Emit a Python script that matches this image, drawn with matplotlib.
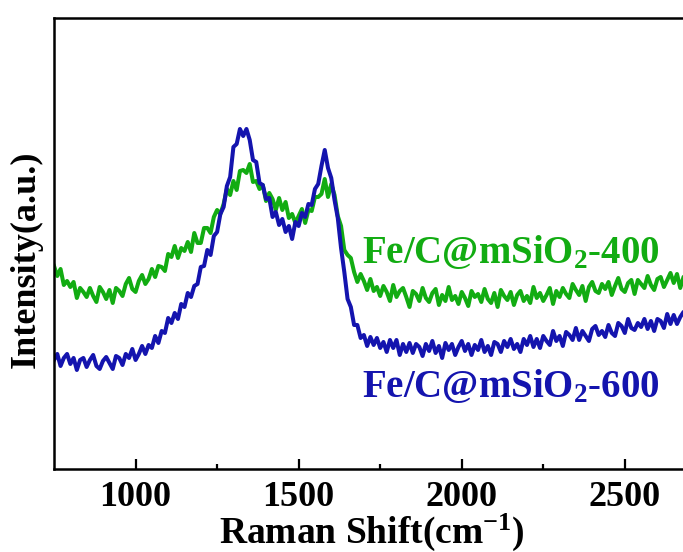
import matplotlib
matplotlib.use("Agg")
import matplotlib.pyplot as plt
import numpy as np

# Raman shift grid (cm-1), one reading every 10 cm-1
shift = np.arange(750, 2701, 10)

# Fe/C@mSiO2-400 (green), noise included
int_400 = [
    203, 193, 200, 184, 188, 182, 187, 171, 181, 177,
    172, 181, 173, 167, 182, 177, 170, 179, 166, 181,
    178, 173, 185, 191, 180, 177, 188, 194, 185, 190,
    200, 192, 203, 202, 198, 215, 212, 223, 211, 221,
    218, 227, 217, 236, 226, 226, 241, 241, 236, 252,
    259, 255, 265, 280, 274, 288, 279, 298, 299, 296,
    305, 287, 288, 280, 284, 268, 276, 270, 259, 271,
    259, 267, 251, 255, 246, 253, 260, 246, 259, 258,
    272, 272, 275, 290, 272, 285, 274, 253, 243, 219,
    214, 211, 197, 187, 195, 188, 179, 190, 178, 182,
    173, 183, 177, 168, 184, 172, 178, 181, 172, 162,
    178, 175, 168, 181, 171, 167, 176, 180, 164, 174,
    168, 182, 169, 173, 165, 177, 171, 163, 178, 172,
    175, 167, 180, 170, 166, 176, 162, 179, 173, 169,
    177, 164, 174, 178, 168, 173, 166, 182, 171, 176,
    168, 174, 181, 165, 178, 172, 181, 175, 171, 185,
    179, 174, 183, 168, 182, 187, 178, 176, 185, 180,
    187, 174, 183, 191, 180, 177, 186, 189, 175, 189,
    185, 181, 193, 184, 179, 190, 192, 182, 189, 196,
    186, 195, 181, 192, 194, 188,
]

# Fe/C@mSiO2-600 (blue)
int_600 = [
    109, 115, 103, 111, 115, 105, 111, 99, 109, 111,
    102, 109, 114, 103, 100, 108, 112, 106, 100, 113,
    111, 104, 115, 111, 120, 109, 115, 123, 115, 124,
    121, 133, 126, 138, 136, 151, 146, 156, 150, 165,
    162, 176, 172, 183, 185, 202, 203, 219, 214, 233,
    237, 255, 262, 283, 292, 322, 325, 340, 333, 340,
    329, 309, 307, 286, 284, 270, 271, 252, 257, 244,
    250, 237, 243, 230, 247, 243, 256, 252, 265, 264,
    280, 285, 303, 319, 301, 291, 269, 251, 221, 197,
    170, 162, 144, 144, 131, 134, 123, 132, 124, 131,
    121, 127, 117, 129, 121, 129, 114, 125, 117, 126,
    116, 125, 122, 113, 125, 118, 128, 116, 123, 111,
    126, 119, 125, 114, 122, 128, 118, 125, 114, 124,
    119, 129, 117, 123, 114, 127, 125, 117, 128, 122,
    130, 120, 125, 117, 130, 124, 133, 122, 130, 121,
    133, 128, 124, 138, 128, 133, 123, 137, 134, 129,
    141, 129, 138, 133, 128, 140, 143, 134, 138, 132,
    144, 136, 133, 146, 143, 136, 150, 141, 139, 146,
    142, 150, 140, 148, 138, 150, 148, 141, 155, 145,
    154, 145, 152, 157, 148, 150,
]

labels = ["Fe/C@mSiO$_2$-400", "Fe/C@mSiO$_2$-600"]
colors = ["#12AC12", "#1414AE"]
xticks = [1000, 1500, 2000, 2500]

plt.rcParams["font.family"] = "Liberation Serif"
plt.rcParams["font.weight"] = "bold"
plt.rcParams["axes.labelweight"] = "bold"
plt.rcParams["mathtext.fontset"] = "custom"
plt.rcParams["mathtext.rm"] = "Liberation Serif:bold"
plt.rcParams["mathtext.bf"] = "Liberation Serif:bold"
plt.rcParams["mathtext.it"] = "Liberation Serif:bold"
plt.rcParams["mathtext.default"] = "rm"

fig = plt.figure(figsize=(6.83, 5.52), dpi=100)
# right spine sits just past the figure edge, like the cropped original
ax = fig.add_axes([0.0791, 0.1504, 0.9312, 0.817])

ax.plot(shift, int_400, color=colors[0], lw=2.9)
ax.plot(shift, int_600, color=colors[1], lw=2.9)

ax.text(1695, 206, labels[0], color=colors[0], fontsize=28, va="baseline")
ax.text(1695, 72, labels[1], color=colors[1], fontsize=28, va="baseline")

ax.set_xlim(750, 2700)
ax.set_ylim(0, 451)
ax.set_xticks(xticks)
ax.set_xticks([1250, 1750, 2250], minor=True)
ax.set_yticks([])
ax.tick_params(axis="x", which="major", direction="in", length=7, width=1.6,
               labelsize=26, pad=9)
ax.tick_params(axis="x", which="minor", direction="in", length=3.5, width=1.6)
for sp in ax.spines.values():
    sp.set_linewidth(1.8)

ax.set_xlabel("Raman Shift(cm$^{-1}$)", fontsize=27, labelpad=-2)
ax.set_ylabel("Intensity(a.u.)", fontsize=26)
ax.yaxis.set_label_coords(-0.017, 0.465)

fig.savefig("out.png", dpi=100)
